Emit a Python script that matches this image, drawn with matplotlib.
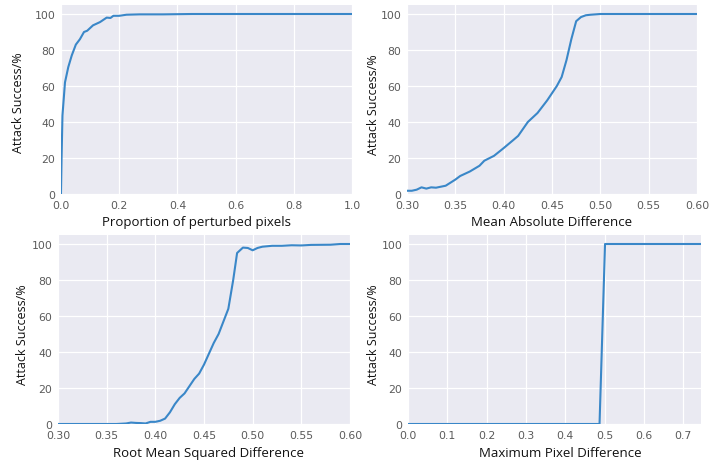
import matplotlib
matplotlib.use("Agg")
import matplotlib.pyplot as plt

# ---- data ----
prop_x = [0.0, 0.002, 0.005, 0.0137, 0.025, 0.037, 0.051, 0.065, 0.079, 0.09, 0.11,
          0.134, 0.157, 0.17, 0.18, 0.2, 0.225, 0.27, 0.35, 0.45, 0.6, 0.8, 1.0]
prop_y = [0.0, 20, 43.6, 62, 70.5, 77, 83, 86, 90, 90.7, 93.7,
          95.5, 98, 97.8, 99, 99, 99.6, 99.8, 99.8, 100, 100, 100, 100]

mad_x = [0.30, 0.305, 0.31, 0.315, 0.32, 0.325, 0.33, 0.34, 0.35, 0.355, 0.365, 0.375,
         0.38, 0.39, 0.40, 0.41, 0.415, 0.425, 0.435, 0.445, 0.455, 0.46, 0.465,
         0.47, 0.475, 0.48, 0.485, 0.49, 0.50, 0.60]
mad_y = [1.8, 1.8, 2.4, 3.7, 3.0, 3.7, 3.5, 4.6, 8, 10, 12.5, 15.7,
         18.5, 21.2, 25.5, 30, 32.3, 40, 45, 52, 60, 65, 74.4,
         86, 96, 98.3, 99.3, 99.6, 100, 100]

rmsd_x = [0.30, 0.36, 0.37, 0.375, 0.38, 0.385, 0.39, 0.395, 0.40, 0.405, 0.41, 0.415,
          0.42, 0.425, 0.43, 0.435, 0.44, 0.445, 0.45, 0.455, 0.46, 0.465, 0.47, 0.475,
          0.48, 0.484, 0.49, 0.495, 0.50, 0.505, 0.51, 0.52, 0.53, 0.54, 0.55, 0.56,
          0.58, 0.59, 0.60]
rmsd_y = [0, 0, 0.3, 0.8, 0.6, 0.5, 0.3, 1.2, 1.2, 1.8, 3, 6.5,
          11, 14.5, 17, 21, 25, 28, 33, 39, 45, 50, 57, 64,
          80, 95, 98, 97.8, 96.5, 97.8, 98.5, 99, 99, 99.3, 99.2, 99.5,
          99.6, 100, 100]

maxd_x = [0.0, 0.487, 0.501, 0.75]
maxd_y = [0, 0, 100, 100]

titles_x = ["Proportion of perturbed pixels", "Mean Absolute Difference",
            "Root Mean Squared Difference", "Maximum Pixel Difference"]
ylabel = "Attack Success/%"

xticks = [[0.0, 0.2, 0.4, 0.6, 0.8, 1.0],
          [0.30, 0.35, 0.40, 0.45, 0.50, 0.55, 0.60],
          [0.30, 0.35, 0.40, 0.45, 0.50, 0.55, 0.60],
          [0.0, 0.1, 0.2, 0.3, 0.4, 0.5, 0.6, 0.7]]
xtick_fmt = ["{:.1f}", "{:.2f}", "{:.2f}", "{:.1f}"]
yticks = [0, 20, 40, 60, 80, 100]

xlims = [(0, 1.0), (0.3, 0.6), (0.3, 0.6), (0, 0.745)]

# ---- layout ----
W, H = 709, 464
fig = plt.figure(figsize=(W / 100, H / 100), dpi=100)
fig.patch.set_facecolor("white")

boxes = [(61, 352, 6, 195), (407, 697, 6, 195), (58, 350, 236, 425), (408, 701, 236, 425)]
xlab_pos = [(0.467, -0.148), (0.497, -0.148), (0.517, -0.153), (0.52, -0.153)]
ylab_pos = [(-0.146, 0.487), (-0.116, 0.476), (-0.122, 0.48), (-0.119, 0.476)]

series = [(prop_x, prop_y), (mad_x, mad_y), (rmsd_x, rmsd_y), (maxd_x, maxd_y)]
line_color = "#3a87c8"

for i, (l, r, t, b) in enumerate(boxes):
    ax = fig.add_axes([l / W, 1 - b / H, (r - l) / W, (b - t) / H])
    ax.set_facecolor("#EAEAF2")
    for s in ax.spines.values():
        s.set_visible(False)
    xs, ys = series[i]
    ax.plot(xs, ys, color=line_color, lw=1.5)
    ax.set_xlim(*xlims[i])
    ax.set_ylim(0, 105)
    ax.set_xticks(xticks[i])
    ax.set_xticklabels([xtick_fmt[i].format(v) for v in xticks[i]])
    ax.set_yticks(yticks)
    ax.set_yticklabels([str(v) for v in yticks])
    ax.grid(True, color="white", lw=0.9)
    ax.set_axisbelow(True)
    ax.tick_params(length=0, labelsize=7.8, labelcolor="#5a5a5a", pad=4)
    ax.set_xlabel(titles_x[i], fontsize=9.5, family="Open Sans", color="#111111", va="center")
    ax.set_ylabel(ylabel, fontsize=9, family="Open Sans", color="#111111", va="center")
    ax.xaxis.set_label_coords(*xlab_pos[i])
    ax.yaxis.set_label_coords(*ylab_pos[i])

fig.savefig("out.png", dpi=100)
